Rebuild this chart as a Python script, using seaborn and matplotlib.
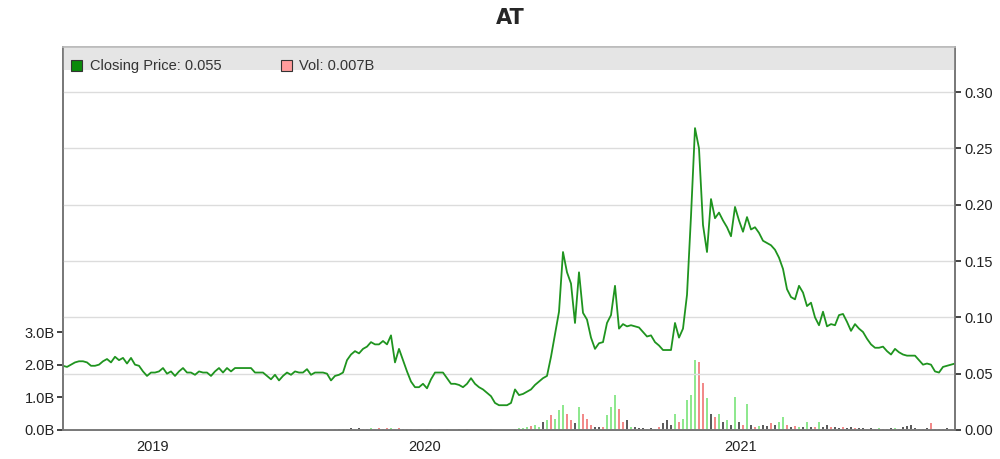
import numpy as np
import pandas as pd
import matplotlib
matplotlib.use("Agg")
import matplotlib.pyplot as plt
import seaborn as sns
from matplotlib.patches import Rectangle

close_price = [
    0.057, 0.056, 0.058, 0.060, 0.061, 0.061, 0.060, 0.057, 0.057, 0.058,
    0.061, 0.063, 0.060, 0.065, 0.062, 0.064, 0.059, 0.064, 0.058, 0.057,
    0.052, 0.048, 0.051, 0.051, 0.052, 0.055, 0.050, 0.052, 0.048, 0.052,
    0.055, 0.051, 0.051, 0.049, 0.052, 0.051, 0.051, 0.048, 0.052, 0.055,
    0.051, 0.055, 0.052, 0.055, 0.055, 0.055, 0.055, 0.055, 0.051, 0.051,
    0.051, 0.048, 0.045, 0.049, 0.044, 0.048, 0.051, 0.049, 0.052, 0.051,
    0.051, 0.054, 0.049, 0.051, 0.051, 0.051, 0.050, 0.044, 0.048, 0.049,
    0.051, 0.062, 0.067, 0.070, 0.068, 0.072, 0.074, 0.078, 0.076, 0.076,
    0.079, 0.076, 0.084, 0.060, 0.072, 0.062, 0.052, 0.043, 0.038, 0.038,
    0.041, 0.037, 0.045, 0.051, 0.051, 0.051, 0.046, 0.041, 0.041, 0.040,
    0.038, 0.041, 0.046, 0.041, 0.038, 0.036, 0.033, 0.030, 0.024, 0.022,
    0.022, 0.022, 0.024, 0.036, 0.031, 0.032, 0.034, 0.036, 0.040, 0.043,
    0.046, 0.048, 0.065, 0.085, 0.105, 0.158, 0.140, 0.130, 0.095, 0.140,
    0.104, 0.098, 0.082, 0.072, 0.077, 0.078, 0.095, 0.102, 0.128, 0.090,
    0.094, 0.092, 0.093, 0.092, 0.091, 0.087, 0.083, 0.084, 0.078, 0.075,
    0.071, 0.071, 0.071, 0.095, 0.082, 0.090, 0.120, 0.190, 0.268, 0.250,
    0.182, 0.158, 0.205, 0.188, 0.193, 0.186, 0.180, 0.172, 0.198, 0.186,
    0.176, 0.189, 0.178, 0.180, 0.175, 0.168, 0.166, 0.164, 0.160, 0.153,
    0.143, 0.125, 0.118, 0.116, 0.128, 0.122, 0.110, 0.113, 0.100, 0.093,
    0.105, 0.092, 0.094, 0.093, 0.102, 0.103, 0.096, 0.088, 0.094, 0.090,
    0.087, 0.081, 0.076, 0.073, 0.073, 0.074, 0.070, 0.067, 0.072, 0.069,
    0.067, 0.066, 0.066, 0.066, 0.062, 0.058, 0.059, 0.058, 0.052, 0.051,
    0.056, 0.057, 0.058, 0.059,
]

volume_b = (
    [0.0] * 68 +
    [0.03, 0.02, 0.04, 0.03, 0.05, 0.04, 0.05, 0.03, 0.04, 0.05,
     0.03, 0.06, 0.04, 0.05, 0.06, 0.04, 0.05, 0.03, 0.02, 0.02,
     0.01, 0.02, 0.01, 0.02, 0.02, 0.01, 0.02, 0.01, 0.02, 0.01,
     0.01, 0.02, 0.01, 0.03, 0.01, 0.01, 0.01, 0.01, 0.01, 0.02,
     0.01, 0.01, 0.01, 0.01, 0.01, 0.03, 0.05, 0.06, 0.08, 0.12,
     0.15, 0.10, 0.25, 0.30, 0.45, 0.35, 0.60, 0.77, 0.50, 0.30,
     0.20, 0.72, 0.50, 0.35, 0.15, 0.10, 0.08, 0.10, 0.45, 0.72,
     1.08, 0.65, 0.25, 0.30, 0.10, 0.08, 0.06, 0.05, 0.04, 0.05,
     0.04, 0.08, 0.20, 0.30, 0.15, 0.50, 0.25, 0.35, 0.92, 1.08,
     2.15, 2.10, 1.43, 0.97, 0.50, 0.40, 0.50, 0.25, 0.30, 0.15,
     1.00, 0.25, 0.15, 0.80, 0.15, 0.10, 0.12, 0.15, 0.12, 0.20,
     0.15, 0.25, 0.40, 0.15, 0.10, 0.12, 0.08, 0.10, 0.25, 0.10,
     0.08, 0.25, 0.10, 0.15, 0.08, 0.10, 0.06, 0.10, 0.05, 0.08,
     0.05, 0.06, 0.05, 0.04, 0.05, 0.04, 0.05, 0.04, 0.04, 0.05,
     0.05, 0.04, 0.10, 0.12, 0.15, 0.05, 0.04, 0.03, 0.05, 0.22,
     0.03, 0.03, 0.04, 0.06, 0.03, 0.05]
)

volume_dir = (
    ["flat"] * 68 +
    ["up", "flat", "up", "flat", "flat", "up", "flat", "down", "flat", "up",
     "down", "down", "flat", "down", "up", "down", "down", "flat", "down", "flat",
     "flat", "flat", "flat", "flat", "flat", "flat", "flat", "flat", "flat", "flat",
     "flat", "flat", "flat", "flat", "flat", "flat", "flat", "flat", "flat", "flat",
     "flat", "flat", "flat", "flat", "flat", "down", "up", "up", "up", "down",
     "up", "up", "flat", "up", "down", "up", "up", "up", "down", "down",
     "flat", "up", "down", "down", "down", "flat", "flat", "down", "up", "up",
     "up", "down", "down", "flat", "up", "flat", "flat", "flat", "flat", "flat",
     "flat", "down", "flat", "flat", "flat", "up", "down", "up", "up", "up",
     "up", "down", "down", "up", "flat", "down", "up", "flat", "up", "flat",
     "up", "flat", "down", "up", "flat", "down", "up", "flat", "flat", "down",
     "flat", "up", "up", "down", "flat", "down", "up", "flat", "up", "flat",
     "down", "up", "flat", "flat", "down", "flat", "flat", "down", "flat", "flat",
     "down", "flat", "flat", "down", "flat", "flat", "up", "flat", "flat", "flat",
     "up", "flat", "flat", "flat", "flat", "flat", "flat", "flat", "flat", "down",
     "flat", "flat", "flat", "flat", "flat", "flat"]
)

year_labels = ["2019", "2020", "2021"]
year_positions = [22.5, 90.5, 169.5]

price_ticks = [0.00, 0.05, 0.10, 0.15, 0.20, 0.25, 0.30]
vol_ticks = [0.0, 1.0, 2.0, 3.0]

last_price_label = "Closing Price: 0.055"
last_vol_label = "Vol: 0.007B"

# ---- build frames ----
n = len(close_price)
idx = np.arange(n)
price_df = pd.DataFrame({"i": idx, "price": close_price})
vol_df = pd.DataFrame({"i": idx, "vol": volume_b, "dir": volume_dir})

sns.set_theme(style="white")
plt.rcParams["font.family"] = ["Liberation Sans", "DejaVu Sans"]

fig = plt.figure(figsize=(10, 4.59), dpi=100)
ax = fig.add_axes([0.063, 0.0632, 0.892, 0.8344])
ax2 = ax.twinx()

vol_palette = {"up": "#8fe88f", "down": "#f28a8a", "flat": "#5c5c5c"}
sns.barplot(data=vol_df, x="i", y="vol", hue="dir", palette=vol_palette,
            native_scale=True, dodge=False, width=0.6, legend=False,
            ax=ax, linewidth=0, saturation=1)

ax2.axhspan(0.32, 0.34, color="#e5e5e5", zorder=0, lw=0)
sns.lineplot(data=price_df, x="i", y="price", color="#1f941f", lw=1.3, ax=ax2)

ax.set_xlim(0, n - 1)
ax.set_ylim(0, 11.78)
ax2.set_ylim(0, 0.34)

ax2.set_axisbelow(True)
ax2.grid(True, axis="both", color="#dcdcdc", lw=1.0)
ax.grid(False)

ax.set_xticks(year_positions)
ax.set_xticklabels(year_labels)
ax2.set_xticks(year_positions)
ax.set_yticks(vol_ticks)
ax.set_yticklabels([f"{v:.1f}B" for v in vol_ticks])
ax2.set_yticks(price_ticks)
ax2.set_yticklabels([f"{v:.2f}" for v in price_ticks])

for a in (ax, ax2):
    a.set_xlabel("")
    a.set_ylabel("")
    a.tick_params(axis="both", labelsize=10.5, colors="#222222", length=4,
                  width=1.2, direction="out")
    for s in a.spines.values():
        s.set_color("#777777")
        s.set_linewidth(1.2)
    a.spines["top"].set_color("#bbbbbb")
ax.tick_params(axis="x", pad=3)
ax.tick_params(axis="y", pad=2)
ax2.tick_params(axis="y", pad=3)

# legend in header band
fig.patches.append(Rectangle((0.0705, 0.845), 0.011, 0.024, transform=fig.transFigure,
                             facecolor="#0a8a0a", edgecolor="#333333", lw=0.8))
fig.text(0.090, 0.857, last_price_label, fontsize=10.5, va="center", color="#333333")
fig.patches.append(Rectangle((0.281, 0.845), 0.011, 0.024, transform=fig.transFigure,
                             facecolor="#ff9c9c", edgecolor="#333333", lw=0.8))
fig.text(0.299, 0.857, last_vol_label, fontsize=10.5, va="center", color="#333333")

fig.text(0.51, 0.96, "AT", ha="center", va="center", fontsize=15,
         fontweight="bold", family="DejaVu Sans")

fig.savefig("out.png", dpi=100)
